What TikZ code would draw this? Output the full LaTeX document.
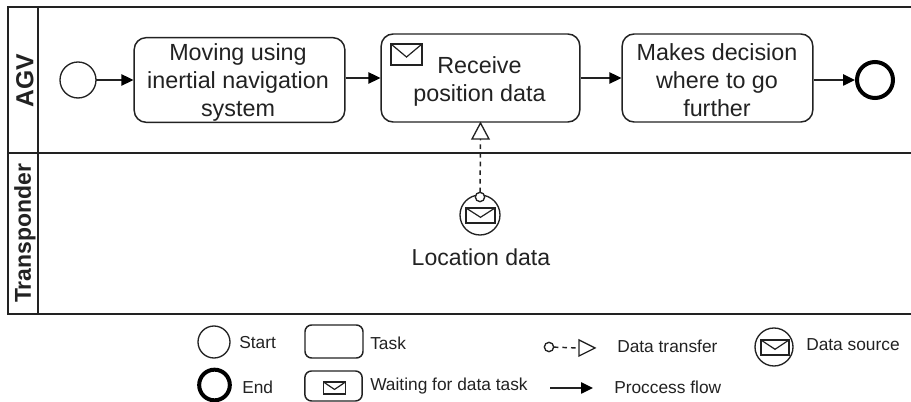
\documentclass[tikz,border=0pt]{standalone}
\usepackage{fontspec}
\setmainfont{Liberation Sans}
\usetikzlibrary{arrows.meta}
\definecolor{ink}{HTML}{222222}
\tikzset{
  x=0.75pt,y=-0.75pt,
  lane/.style={draw=ink,line width=1.1pt},
  taskbox/.style={draw=ink,rounded corners=9pt,line width=1.1pt,fill=white},
  tasktext/.style={text=ink,font=\fontsize{17.5}{21}\selectfont,align=center,inner sep=0pt},
  legendtext/.style={text=ink,font=\fontsize{13}{15}\selectfont,anchor=west,inner sep=0pt},
  lanelabel/.style={text=ink,font=\bfseries\fontsize{17.2}{20}\selectfont,rotate=90,inner sep=0pt},
  startev/.style={draw=ink,circle,line width=1pt,inner sep=0pt,fill=white,outer sep=0pt},
  endev/.style={draw=black,circle,line width=3pt,inner sep=0pt,fill=white,outer sep=1.5pt},
  flow/.style={draw=ink,line width=1.1pt,-{Triangle[length=9pt,width=8.5pt,fill=black,color=black]}},
  mail/.style={draw=ink,line width=0.9pt},
  transfer/.style={draw=ink,line width=1.1pt,dash pattern=on 3.5pt off 3pt},
  hollowtip/.style={draw=ink,line width=1pt,fill=white},
}
\newcommand{\mailicon}[4]{% cx cy w h
  \draw[mail] (#1-#3/2,#2-#4/2) rectangle (#1+#3/2,#2+#4/2);
  \draw[mail] (#1-#3/2,#2-#4/2) -- (#1,#2+#4*0.12) -- (#1+#3/2,#2-#4/2);
}
\begin{document}
\begin{tikzpicture}
\useasboundingbox (0,0) rectangle (911,402);
\path[fill=white] (0,0) rectangle (911,402);
% lanes
\draw[lane] (911,7) -- (8,7) -- (8,314) -- (911,314);
\draw[lane] (38,7) -- (38,314);
\draw[lane] (8,153) -- (911,153);
\node[lanelabel,font=\bfseries\fontsize{18.5}{22}\selectfont] (agv) at (25,80.5) {AGV};
\node[lanelabel] (tr) at (25,233.5) {Transponder};
% flow
\node[startev,minimum size=27pt] (s) at (78,80) {};
\node[taskbox,minimum width=158pt,minimum height=63.5pt] (t1) at (239.5,80) {};
\node[tasktext] (t1t) at (238,82) {Moving using\\inertial navigation\\system};
\node[taskbox,minimum width=149pt,minimum height=66pt] (t2) at (480.5,78) {};
\node[tasktext] (t2t) at (479.5,81) {Receive\\position data};
\node[taskbox,minimum width=143pt,minimum height=66pt] (t3) at (717.5,78) {};
\node[tasktext] (t3t) at (717,80) {Makes decision\\where to go\\further};
\node[endev,minimum size=27pt] (e) at (875,80) {};
\draw[flow] (s) -- (t1);
\draw[flow] (t1.east|-t2) -- (t2);
\draw[flow] (t2) -- (t3);
\draw[flow] (t3.east|-e) -- (e);
\mailicon{406.5}{54.5}{31}{21}
% data source
\node[startev,minimum size=30pt] (ds) at (480,215) {};
\mailicon{480.5}{215.5}{29}{15}
\node[startev,minimum size=7pt] (dot) at (480,197) {};
\draw[hollowtip] (480.5,123) -- (472,139) -- (489,139) -- cycle;
\coordinate (tip) at (480.5,139);
\draw[transfer] (dot) -- (tip);
\node[text=ink,font=\fontsize{17.3}{20}\selectfont,inner sep=0pt] (loc) at (481,257) {Location data};
% legend
\node[startev,minimum size=24pt] (ls) at (214,342) {};
\node[legendtext] at (239,343) {Start};
\node[endev,minimum size=23pt] (le) at (214.5,385) {};
\node[legendtext] at (242,387) {End};
\node[taskbox,rounded corners=5pt,minimum width=43.5pt,minimum height=24.75pt] (lt) at (334,341.5) {};
\node[legendtext] at (370,343) {Task};
\node[taskbox,rounded corners=5pt,minimum width=43pt,minimum height=22.5pt] (lw) at (333.5,386) {};
\mailicon{334.5}{388}{22}{12}
\node[legendtext] at (370,386) {Waiting for data task};
\node[startev,minimum size=7pt] (lo) at (549,347) {};
\draw[hollowtip] (579,340) -- (595,348) -- (579,356) -- cycle;
\coordinate (ltip) at (579,348);
\draw[transfer] (lo) -- (ltip);
\node[legendtext] at (617,346) {Data transfer};
\coordinate (fa) at (550,388);
\coordinate (fb) at (593,388);
\draw[flow] (fa) -- (fb);
\node[legendtext] at (614,387) {Proccess flow};
\node[startev,minimum size=28.5pt] (lds) at (774,347) {};
\mailicon{775}{347.5}{28}{15}
\node[legendtext] at (806,345) {Data source};
\end{tikzpicture}
\end{document}
